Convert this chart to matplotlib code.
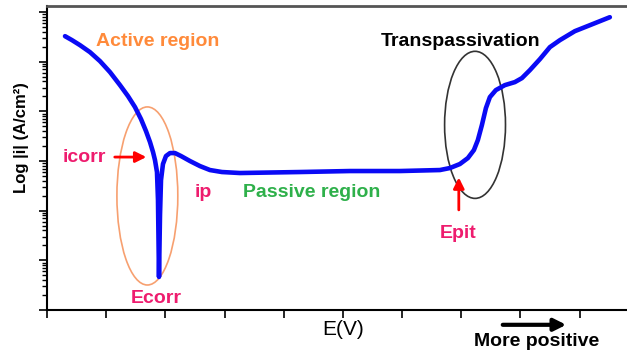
import numpy as np
import matplotlib
matplotlib.use("Agg")
import matplotlib.pyplot as plt
from matplotlib.patches import Ellipse

plt.rcParams['font.family'] = ['Liberation Sans', 'DejaVu Sans']

# polarization curve (E in arbitrary units, log10 |i|)
potential = [0.304, 0.422, 0.557, 0.726, 0.895, 1.064, 1.233, 1.368, 1.486,
             1.588, 1.672, 1.740, 1.791, 1.824, 1.858, 1.875, 1.892, 1.909,
             1.926, 1.959, 2.010, 2.078, 2.162, 2.264, 2.416, 2.584, 2.753,
             2.956, 3.260, 4.274, 5.118, 5.963, 6.639, 6.807, 6.976, 7.111,
             7.213, 7.280, 7.348, 7.416, 7.483, 7.584, 7.736, 7.905, 8.024,
             8.159, 8.328, 8.497, 8.666, 8.919, 9.172, 9.510]
log_current = [5.513, 5.433, 5.332, 5.191, 5.010, 4.789, 4.527, 4.306, 4.085,
               3.843, 3.602, 3.380, 3.179, 3.018, 2.777, 2.213, 0.664, 1.911,
               2.616, 2.938, 3.099, 3.159, 3.159, 3.099, 2.998, 2.897, 2.817,
               2.777, 2.757, 2.777, 2.797, 2.797, 2.817, 2.857, 2.938, 3.058,
               3.219, 3.421, 3.722, 4.064, 4.286, 4.427, 4.527, 4.588, 4.668,
               4.829, 5.050, 5.292, 5.433, 5.614, 5.734, 5.895]

current = 10 ** np.array(log_current)

fig = plt.figure(figsize=(6.27, 3.55), dpi=100)
ax = fig.add_axes([0.075, 0.127, 0.925, 0.856])

ax.plot(potential, current, color="#0a0af5", lw=3.3, solid_joinstyle="round",
        solid_capstyle="round")

ax.set_yscale("log")
ax.set_xlim(0, 9.8)
ax.set_ylim(1, 10 ** 6.12)
ax.set_xticks(np.arange(0, 10))
ax.tick_params(labelbottom=False, labelleft=False)
ax.tick_params(which="major", length=6, width=1.2)
ax.tick_params(which="minor", length=3.5, width=1)

ax.spines["right"].set_visible(False)
ax.spines["top"].set_color("#555555")
ax.spines["top"].set_linewidth(2)
ax.spines["left"].set_linewidth(1.5)
ax.spines["bottom"].set_linewidth(1.5)

# ellipses around Ecorr and the transpassive rise
ax.add_patch(Ellipse((0.173, 0.375), 0.105, 0.586, transform=ax.transAxes,
                     fill=False, edgecolor="#f7a070", lw=1.2))
ax.add_patch(Ellipse((0.738, 0.609), 0.105, 0.484, transform=ax.transAxes,
                     fill=False, edgecolor="#333333", lw=1.2))

pink = "#ee1c6e"
kw = dict(transform=ax.transAxes, ha="center", va="center", fontweight="bold")
ax.text(0.1905, 0.882, "Active region", color="#ff8a3a", fontsize=14, **kw)
ax.text(0.713, 0.882, "Transpassivation", color="black", fontsize=14, **kw)
ax.text(0.064, 0.503, "icorr", color=pink, fontsize=14, **kw)
ax.text(0.269, 0.385, "ip", color=pink, fontsize=14, **kw)
ax.text(0.457, 0.385, "Passive region", color="#2eb04a", fontsize=14, **kw)
ax.text(0.188, 0.039, "Ecorr", color=pink, fontsize=14, **kw)
ax.text(0.709, 0.253, "Epit", color=pink, fontsize=14, **kw)
ax.text(0.845, -0.105, "More positive", color="black", fontsize=14, clip_on=False, **kw)
ax.text(0.510, -0.066, "E(V)", color="black", fontsize=15, transform=ax.transAxes,
        ha="center", va="center", clip_on=False)

arrow_red = dict(arrowstyle="-|>", color="red", lw=2, mutation_scale=16)
ax.annotate("", xy=(0.176, 0.503), xytext=(0.112, 0.503),
            xycoords="axes fraction", arrowprops=arrow_red)
ax.annotate("", xy=(0.710, 0.445), xytext=(0.710, 0.320),
            xycoords="axes fraction", arrowprops=arrow_red)
ax.annotate("", xy=(0.900, -0.049), xytext=(0.781, -0.049),
            xycoords="axes fraction", annotation_clip=False,
            arrowprops=dict(arrowstyle="-|>", color="black", lw=3, mutation_scale=18))

fig.text(22 / 627, 1 - 138 / 355, "Log |i| (A/cm²)", rotation=90, ha="center",
         va="center", fontsize=12, fontweight="bold")

fig.savefig("out.png", dpi=100)
